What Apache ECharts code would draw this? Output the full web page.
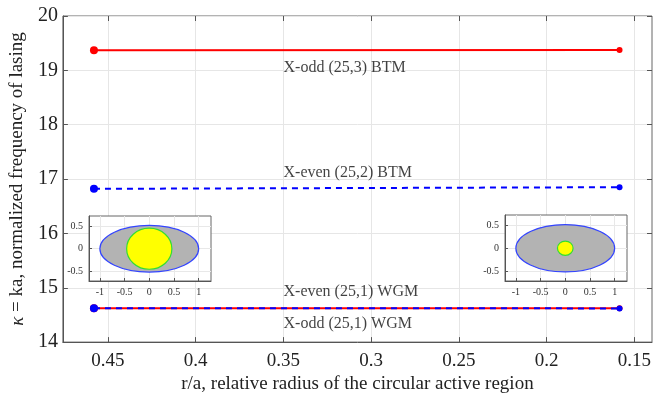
<!DOCTYPE html>
<html>
<head>
<meta charset="utf-8">
<script src="https://cdn.jsdelivr.net/npm/echarts@6/dist/echarts.min.js"></script>
<style>html,body{margin:0;padding:0;background:#fff}#c{width:666px;height:399px}</style>
</head>
<body>
<div id="c"></div>
<script>
// ---- data ----
const rOverA = [0.458, 0.1585];           // r/a values (x)
const xOdd253 = [19.37, 19.375];          // X-odd (25,3) BTM
const xEven252 = [16.82, 16.85];          // X-even (25,2) BTM
const xOdd251 = [14.625, 14.625];         // X-odd (25,1) WGM
const xEven251 = [14.625, 14.62];         // X-even (25,1) WGM
const xTickValues = [0.45, 0.4, 0.35, 0.3, 0.25, 0.2, 0.15];
const yTickValues = [14, 15, 16, 17, 18, 19, 20];
const annotationText = ['X-odd (25,3) BTM', 'X-even (25,2) BTM', 'X-even (25,1) WGM', 'X-odd (25,1) WGM'];
const annotationX = [0.35, 0.35, 0.35, 0.35];
const annotationY = [19.05, 17.12, 14.93, 14.34];
// insets: ellipse (semi-axes) and active-region circle radius
const ellipseSemiAxes = [1, 0.52];
const circleRadius = [0.458, 0.158];
const insetXTicks = [-1, -0.5, 0, 0.5, 1];
const insetYTicks = [-0.5, 0, 0.5];

const serif = 'Liberation Serif';
const chart = echarts.init(document.getElementById('c'));

function pairs(xs, ys) { return xs.map((x, i) => [x, ys[i]]); }
function endSymbols(data) {
  return data.map((d, i) => ({ value: d, symbol: 'circle', symbolSize: i === 0 ? 8 : 6 }));
}

const mainX = { min: 0.14, max: 0.4757, inverse: true };
const mainY = { min: 14, max: 20 };

function insetX(gi) {
  return {
    type: 'value', gridIndex: gi, min: -1.22, max: 1.25, z: 11,
    axisLine: { show: true, onZero: false, lineStyle: { color: '#555' } },
    axisTick: { show: true, inside: true, length: 3, customValues: insetXTicks, lineStyle: { color: '#555' } },
    axisLabel: { show: true, customValues: insetXTicks, fontFamily: serif, fontSize: 10, color: '#333', margin: 6,
      formatter: v => String(v) },
    splitLine: { show: true, lineStyle: { color: '#e8e8e8' } }
  };
}
function insetY(gi) {
  return {
    type: 'value', gridIndex: gi, min: -0.72, max: 0.73, z: 11,
    axisLine: { show: true, onZero: false, lineStyle: { color: '#555' } },
    axisTick: { show: true, inside: true, length: 3, customValues: insetYTicks, lineStyle: { color: '#555' } },
    axisLabel: { show: true, customValues: insetYTicks, fontFamily: serif, fontSize: 10, color: '#333', margin: 6,
      formatter: v => String(v) },
    splitLine: { show: true, lineStyle: { color: '#e8e8e8' } }
  };
}

function shapeRender(params, api) {
  const c = api.coord([api.value(0), api.value(1)]);
  const s = api.size([api.value(2), api.value(3)]);
  const isCircle = api.value(4) === 1;
  return {
    type: 'ellipse',
    shape: { cx: c[0], cy: c[1], rx: s[0], ry: s[1] },
    style: isCircle ? { fill: '#ffff00', stroke: '#33dd33', lineWidth: 1.2 }
                    : { fill: '#b3b3b3', stroke: '#3344ff', lineWidth: 1.2 }
  };
}

const option = {
  animation: false,
  backgroundColor: '#fff',
  grid: [
    { left: 60, top: 16, right: 14, bottom: 56, show: true, borderColor: '#666', borderWidth: 1 },
    { left: 89, top: 216, width: 122, height: 65, show: true, backgroundColor: '#fff', borderColor: '#666', borderWidth: 1, z: 10 },
    { left: 505, top: 215, width: 122, height: 66, show: true, backgroundColor: '#fff', borderColor: '#666', borderWidth: 1, z: 10 }
  ],
  xAxis: [
    Object.assign({
      type: 'value', gridIndex: 0,
      name: 'r/a, relative radius of the circular active region',
      nameLocation: 'middle', nameGap: 30,
      nameTextStyle: { fontFamily: serif, fontSize: 19, color: '#222' },
      axisLine: { show: true, onZero: false, lineStyle: { color: '#555' } },
      axisTick: { show: true, inside: true, length: 5, customValues: xTickValues, lineStyle: { color: '#555' } },
      axisLabel: { customValues: xTickValues, fontFamily: serif, fontSize: 19, color: '#222', margin: 9,
        formatter: v => String(v) },
      splitLine: { show: true, lineStyle: { color: '#e6e6e6' } }
    }, mainX),
    Object.assign({
      type: 'value', gridIndex: 0, position: 'top',
      axisLine: { show: false, onZero: false },
      axisTick: { show: true, inside: true, length: 5, customValues: xTickValues, lineStyle: { color: '#555' } },
      axisLabel: { show: false },
      splitLine: { show: false }
    }, mainX),
    insetX(1),
    insetX(2)
  ],
  yAxis: [
    Object.assign({
      type: 'value', gridIndex: 0, interval: 1,
      name: '{i|κ} = ka, normalized frequency of lasing',
      nameLocation: 'middle', nameGap: 30,
      nameTextStyle: { fontFamily: serif, fontSize: 19, color: '#222',
        rich: { i: { fontFamily: serif, fontSize: 19, fontStyle: 'italic', color: '#222' } } },
      axisLine: { show: true, onZero: false, lineStyle: { color: '#555' } },
      axisTick: { show: true, inside: true, length: 5, lineStyle: { color: '#555' } },
      axisLabel: { fontFamily: serif, fontSize: 20, color: '#222', margin: 5 },
      splitLine: { show: true, lineStyle: { color: '#e6e6e6' } }
    }, mainY),
    Object.assign({
      type: 'value', gridIndex: 0, interval: 1, position: 'right',
      axisLine: { show: false, onZero: false },
      axisTick: { show: true, inside: true, length: 5, lineStyle: { color: '#555' } },
      axisLabel: { show: false },
      splitLine: { show: false }
    }, mainY),
    insetY(1),
    insetY(2)
  ],
  series: [
    { type: 'line', xAxisIndex: 0, yAxisIndex: 0, data: endSymbols(pairs(rOverA, xOdd253)),
      lineStyle: { color: '#ff0000', width: 2 }, itemStyle: { color: '#ff0000' }, z: 3 },
    { type: 'line', xAxisIndex: 0, yAxisIndex: 0, data: endSymbols(pairs(rOverA, xEven252)),
      lineStyle: { color: '#0000ff', width: 2, type: [6, 5] }, itemStyle: { color: '#0000ff' }, z: 3 },
    { type: 'line', xAxisIndex: 0, yAxisIndex: 0, data: endSymbols(pairs(rOverA, xOdd251)),
      lineStyle: { color: '#ff0000', width: 2 }, itemStyle: { color: '#ff0000' }, z: 3 },
    { type: 'line', xAxisIndex: 0, yAxisIndex: 0, data: endSymbols(pairs(rOverA, xEven251)),
      lineStyle: { color: '#0000ff', width: 2, type: [6, 5] }, itemStyle: { color: '#0000ff' }, z: 4 },
    { type: 'scatter', xAxisIndex: 0, yAxisIndex: 0, symbolSize: 0.1, silent: true,
      data: annotationText.map((t, i) => ({ value: [annotationX[i], annotationY[i]], name: t })),
      itemStyle: { color: 'rgba(0,0,0,0)' },
      label: { show: true, position: 'right', distance: 0, formatter: p => p.name,
        fontFamily: serif, fontSize: 16, color: '#111' } },
    { type: 'custom', xAxisIndex: 2, yAxisIndex: 2, z: 12, renderItem: shapeRender,
      data: [[0, 0, ellipseSemiAxes[0], ellipseSemiAxes[1], 0], [0, 0, circleRadius[0], circleRadius[0], 1]] },
    { type: 'custom', xAxisIndex: 3, yAxisIndex: 3, z: 12, renderItem: shapeRender,
      data: [[0, 0, ellipseSemiAxes[0], ellipseSemiAxes[1], 0], [0, 0, circleRadius[1], circleRadius[1], 1]] }
  ]
};
chart.setOption(option);
</script>
</body>
</html>
